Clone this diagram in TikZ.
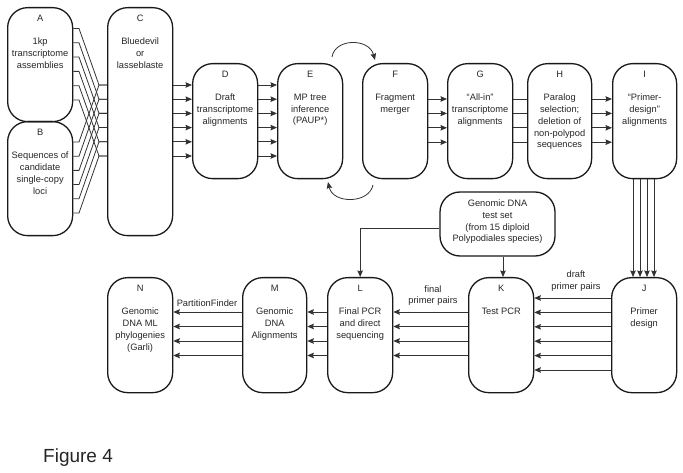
\documentclass[tikz,border=0pt]{standalone}
\usepackage{fontspec}
\setmainfont{Liberation Sans}
\usetikzlibrary{arrows.meta}
\tikzset{
  boxst/.style={draw=black!90, line width=1.3pt, rounded corners=20pt, inner sep=0pt},
  arr/.style={draw=black!80, line width=0.8pt, -{Stealth[length=6.5pt,width=5.5pt,inset=0.8pt]}},
  ln/.style={draw=black!80, line width=0.8pt},
  txt/.style={font=\fontsize{9.3}{11.7}\selectfont, text=black!85, align=center, inner sep=0pt},
}
\newcommand\flowbox[7]{%
  \node[boxst, minimum width=#4pt, minimum height=#5pt, anchor=north west] (#1) at (#2,#3) {};
  \node[txt] (#1letter) at ([yshift=-11.5pt]#1.north) {#6};
  \node[txt, anchor=north] (#1text) at ([yshift=-31pt]#1.north) {#7};
}
\begin{document}
\begin{tikzpicture}[x=1pt,y=-1pt]
\useasboundingbox (0,0) rectangle (683,473);

% top row boxes
\flowbox{A}{7}{7}{65}{114}{A}{1kp\\transcriptome\\assemblies}
\flowbox{B}{7}{121}{65}{114}{B}{Sequences of\\candidate\\single-copy\\loci}
\flowbox{C}{107}{7}{65}{228}{C}{Bluedevil\\or\\lasseblaste}
\flowbox{D}{192}{63}{65}{115}{D}{Draft\\transcriptome\\alignments}
\flowbox{E}{277}{63}{65}{115}{E}{MP tree\\inference\\(PAUP*)}
\flowbox{F}{362}{63}{65}{115}{F}{Fragment\\merger}
\flowbox{G}{447}{63}{65}{115}{G}{“All-in”\\transcriptome\\alignments}
\flowbox{H}{527}{63}{64}{115}{H}{Paralog\\selection;\\deletion of\\non-polypod\\sequences}
\flowbox{I}{612}{63}{64}{115}{I}{“Primer-\\design”\\alignments}

% bottom row boxes
\flowbox{J}{611}{277}{65}{115}{J}{Primer\\design}
\flowbox{K}{468}{277}{65}{115}{K}{Test PCR}
\flowbox{L}{327}{277}{65}{115}{L}{Final PCR\\and direct\\sequencing}
\flowbox{M}{242}{277}{64}{115}{M}{Genomic\\DNA\\Alignments}
\flowbox{N}{107}{277}{65}{115}{N}{Genomic\\DNA ML\\phylogenies\\(Garli)}

% genomic DNA test set
\node[boxst, minimum width=115pt, minimum height=64pt] (Gen) at (497.5,224) {};
\node[txt, anchor=north] (Gentext) at ([yshift=-8.5pt]Gen.north) {Genomic DNA\\test set\\(from 15 diploid\\Polypodiales species)};

% crossing lines A,B -> C
\foreach \i in {0,...,5} {
  \pgfmathsetmacro\ya{28.5+14.3*\i}
  \pgfmathsetmacro\yc{85+14.2*\i}
  \pgfmathsetmacro\yb{142+14.2*\i}
  \draw[ln] (A.east |- 0,\ya) -- (79,\ya) -- (99,\yc) -- (C.west |- 0,\yc);
  \draw[ln] (B.east |- 0,\yb) -- (79,\yb) -- (99,\yc) -- (C.west |- 0,\yc);
}

% C -> D, D -> E
\foreach \y in {85,99.2,113.4,127.6,141.8,156} {
  \draw[arr] (C.east |- 0,\y) -- (D.west |- 0,\y);
  \draw[arr] (D.east |- 0,\y) -- (E.west |- 0,\y);
}

% E <-> F cycle
\coordinate (t1) at (332,57);
\coordinate (t2) at (375,60);
\coordinate (b1) at (373,185);
\coordinate (b2) at (328,182);
\draw[arr] (t1) .. controls (335,38) and (369,38) .. (t2);
\draw[arr] (b1) .. controls (369,204) and (333,204) .. (b2);

% F -> G, G - H, H -> I
\foreach \y in {99,113.4,127.8,142.2} {
  \draw[arr] (F.east |- 0,\y) -- (G.west |- 0,\y);
  \draw[ln] (G.east |- 0,\y) -- (H.west |- 0,\y);
  \draw[arr] (H.east |- 0,\y) -- (I.west |- 0,\y);
}

% I -> J
\foreach \x in {633,640,647,654} {
  \draw[arr] (I.south -| \x,0) -- (J.north -| \x,0);
}

% J -> K
\foreach \y in {298,312.4,326.8,341.2,355.6,370} {
  \draw[arr] (J.west |- 0,\y) -- (K.east |- 0,\y);
}

% K -> L, L -> M, M -> N
\foreach \y in {312,326.5,341,355.5} {
  \draw[arr] (K.west |- 0,\y) -- (L.east |- 0,\y);
  \draw[arr] (L.west |- 0,\y) -- (M.east |- 0,\y);
  \draw[arr] (M.west |- 0,\y) -- (N.east |- 0,\y);
}

% genomic test set connectors
\draw[arr] (Gen.south -| 503,0) -- (K.north -| 503,0);
\draw[arr] (Gen.west |- 0,228) -| (L.north);

% labels
\node[txt] (ldraft) at (576,280.8) {draft\\primer pairs};
\node[txt] (lfinal) at (433,295.7) {final\\primer pairs};
\node[txt] (lpf) at (207,303) {PartitionFinder};

\node[anchor=base west, font=\fontsize{19}{23}\selectfont, text=black!85, inner sep=0pt] (fig) at (43,462.5) {Figure 4};
\end{tikzpicture}
\end{document}
